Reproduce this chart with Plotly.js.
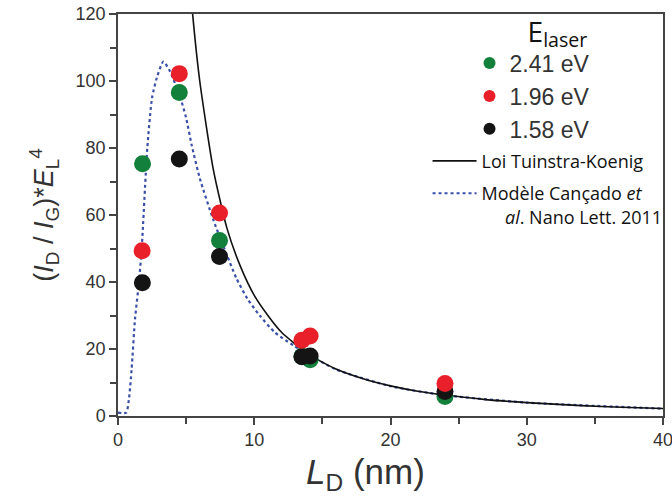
<!DOCTYPE html>
<html>
<head>
<meta charset="utf-8">
<script src="https://cdn.plot.ly/plotly-3.0.1.min.js"></script>
<style>html,body{margin:0;padding:0;background:#fff;}#chart{width:672px;height:499px;}</style>
</head>
<body>
<div id="chart"></div>
<script>
// Measured points, L_D (nm)
const green_x = [1.8, 4.5, 7.45, 13.5, 14.1, 24.0];
const green_y = [75.3, 96.6, 52.4, 17.8, 16.8, 5.8];
const red_x = [1.77, 4.5, 7.45, 13.5, 14.1, 24.0];
const red_y = [49.3, 102.2, 60.6, 22.6, 23.9, 9.7];
const black_x = [1.79, 4.5, 7.45, 13.5, 14.1, 24.0];
const black_y = [39.8, 76.7, 47.6, 17.7, 17.9, 7.3];

// Curves
const tk_x = [5.0, 5.5, 6.0, 7.0, 8.0, 9.0, 10.0, 11.0, 12.0, 14.0, 16.0, 18.0, 20.0, 22.0, 24.0, 27.0, 30.0, 34.0, 37.0, 40.0];
const tk_y = [144, 119, 100, 73.5, 56, 44.5, 36, 30, 25, 18.4, 14, 11.1, 9, 7.4, 6.25, 4.9, 4.0, 3.1, 2.6, 2.25];
const cancado_x = [0, 0.6, 0.8, 1.0, 1.25, 1.54, 1.74, 2.15, 2.5, 2.85, 3.33, 3.8, 4.5, 5.0, 5.4, 6.0, 7.0, 8.0, 8.7, 9.5, 10.4, 11.5, 12.9, 14.0, 16.0, 20.0, 24.0, 30.0, 40.0];
const cancado_y = [1, 1, 5, 14, 29, 40, 50, 80, 95, 101, 105.8, 103, 96, 89, 81, 71, 58.5, 48, 41, 35, 30, 25, 21, 18.3, 13.9, 8.9, 6.2, 4.0, 2.2];

const legendLabels = ['2.41 eV', '1.96 eV', '1.58 eV'];
const lineLabels = ['Loi Tuinstra-Koenig', 'Modèle Cançado <i>et</i><br>\u00a0\u00a0\u00a0\u00a0\u00a0<i>al</i>. Nano Lett. 2011'];
const legendTitle = '\u00a0\u00a0\u00a0\u00a0\u00a0\u00a0\u00a0E<sub>laser</sub>';
const xTitle = '<i>L</i><sub>D</sub> (nm)';
const yTitle = '(<i>I</i><sub>D</sub> / <i>I</i><sub>G</sub>)*<i>E</i><sub>L</sub><sup>4</sup>';

const markerSize = 17;
const traces = [
  {x: cancado_x, y: cancado_y, mode: 'lines', name: lineLabels[1], legend: 'legend2', legendrank: 2, legendgroup: 'c',
   line: {color: '#3b4fa8', width: 2.2, dash: 'dot', shape: 'spline', smoothing: 0.6}},
  {x: tk_x, y: tk_y, mode: 'lines', name: lineLabels[0], legend: 'legend2', legendrank: 1, legendgroup: 'tk',
   line: {color: '#111', width: 1.6, shape: 'spline', smoothing: 0.6}},
  {x: green_x, y: green_y, mode: 'markers', name: legendLabels[0], legendrank: 1,
   marker: {color: '#13803c', size: markerSize}},
  {x: black_x, y: black_y, mode: 'markers', name: legendLabels[2], legendrank: 3,
   marker: {color: '#141414', size: markerSize}},
  {x: red_x, y: red_y, mode: 'markers', name: legendLabels[1], legendrank: 2,
   marker: {color: '#e9202a', size: markerSize}}
];

const axisCommon = {
  showline: true, linecolor: '#444', linewidth: 1.5, mirror: true,
  ticks: 'outside', ticklen: 7, tickwidth: 1.5, tickcolor: '#444',
  showgrid: false, zeroline: false, automargin: false, ticklabeloverflow: 'allow',
  tickfont: {family: 'Liberation Sans, Arial, sans-serif', size: 18, color: '#333'}
};

const layout = {
  width: 672, height: 499,
  margin: {l: 118, r: 9, t: 14, b: 83, autoexpand: false},
  paper_bgcolor: '#fff', plot_bgcolor: '#fff',
  showlegend: true,
  xaxis: Object.assign({}, axisCommon, {
    range: [0, 40], tickvals: [0, 10, 20, 30, 40],
    minor: {tickvals: [5, 15, 25, 35], ticks: 'outside', ticklen: 6, tickcolor: '#444', tickwidth: 1.5}
  }),
  yaxis: Object.assign({}, axisCommon, {
    range: [0, 120], tickvals: [0, 20, 40, 60, 80, 100, 120],
    minor: {tickvals: [10, 30, 50, 70, 90, 110], ticks: 'outside', ticklen: 6, tickcolor: '#444', tickwidth: 1.5},
    title: {text: yTitle, font: {family: 'Liberation Sans, Arial, sans-serif', size: 27, color: '#333'}, standoff: 14}
  }),
  annotations: [{
    text: xTitle, xref: 'paper', yref: 'paper', x: 0.455, y: -0.145, xanchor: 'center', yanchor: 'middle',
    showarrow: false, font: {family: 'Liberation Sans, Arial, sans-serif', size: 35, color: '#333'}
  }],
  legend: {
    x: 0.645, xanchor: 'left', y: 1.022, yanchor: 'top',
    bgcolor: 'rgba(0,0,0,0)', borderwidth: 0, itemsizing: 'constant',
    font: {family: 'Liberation Sans, Arial, sans-serif', size: 23, color: '#333'},
    title: {text: legendTitle, side: 'top center', font: {family: 'Open Sans, sans-serif', size: 28, color: '#111'}}
  },
  legend2: {
    x: 0.568, xanchor: 'left', y: 0.68, yanchor: 'top',
    bgcolor: 'rgba(0,0,0,0)', borderwidth: 0, valign: 'top', itemwidth: 44,
    tracegroupgap: 6,
    font: {family: 'Open Sans, sans-serif', size: 18, color: '#111'}
  }
};

Plotly.newPlot('chart', traces, layout, {displayModeBar: false, responsive: false});
</script>
</body>
</html>
